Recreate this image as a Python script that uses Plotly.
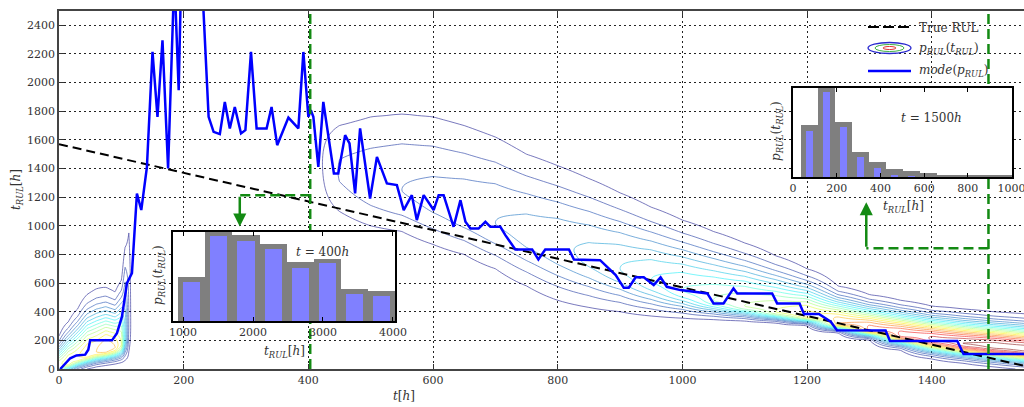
import numpy as np
import plotly.graph_objects as go

# ---------------- data ----------------
# true remaining useful life
true_t = [0, 1570]
true_rul = [1570, 0]

# mode of the RUL density over time
mode_t = [2, 10, 18, 28, 42, 47, 50, 85, 93, 101,
          109, 117, 125, 132, 141, 150, 158, 166, 175, 185,
          192, 196, 229, 240, 248, 258, 266, 274, 282, 292,
          299, 308, 317, 333, 341, 350, 368, 384, 392, 400,
          404, 408, 416, 424, 441, 448, 459, 466, 475, 483,
          499, 510, 526, 542, 553, 566, 574, 585, 601, 609,
          617, 633, 644, 652, 660, 673, 684, 692, 708, 716,
          732, 759, 769, 780, 818, 826, 862, 868, 893, 906,
          914, 925, 938, 954, 965, 975, 997, 1040, 1050, 1066,
          1082, 1088, 1144, 1152, 1188, 1195, 1219, 1238, 1248, 1326,
          1333, 1441, 1451, 1549]
mode_rul = [0, 40, 75, 95, 100, 135, 200, 200, 250, 365,
            600, 670, 1225, 1110, 1410, 2215, 1760, 2295, 1400, 2750,
            1947, 2750, 2750, 1761, 1656, 1640, 1865, 1680, 1830, 1645,
            1668, 2214, 1680, 1680, 1830, 1563, 1756, 1680, 2214, 1761,
            1807, 1761, 1412, 1865, 1365, 1365, 1633, 1575, 1226, 1680,
            1191, 1481, 1296, 1284, 1110, 1214, 1040, 1214, 1110, 1214,
            1214, 993, 1179, 1028, 981, 981, 1028, 993, 993, 935,
            835, 835, 765, 835, 835, 765, 765, 760, 656, 567,
            567, 640, 640, 586, 640, 574, 551, 528, 458, 458,
            563, 528, 528, 458, 458, 384, 384, 330, 270, 268,
            195, 195, 105, 105]

# RUL density p_RUL(t_RUL) summary per time column: mode, lower / upper
# extent of the outermost contour, and peak level (number of contour rings)
dens_t = [0, 15, 30, 45, 60, 75, 90, 100, 106, 112, 118, 395,
          420, 450, 500, 550, 600, 650, 700, 750, 800, 850, 900, 950,
          1000, 1050, 1100, 1150, 1200, 1250, 1300, 1350, 1400, 1450, 1500, 1550]
dens_mode = [15, 45, 75, 100, 120, 135, 150, 170, 210, 300, 400, 1500,
             1450, 1380, 1300, 1250, 1180, 1100, 1020, 940, 860, 780, 700, 620,
             550, 480, 440, 400, 370, 320, 280, 240, 210, 180, 160, 140]
dens_lo = [-60, -40, -20, 0, 15, 25, 35, 45, 60, 120, 200, 1100,
           1150, 1100, 1000, 960, 870, 800, 700, 580, 480, 430, 400, 370,
           355, 345, 335, 320, 300, 250, 200, 130, 70, 40, 15, -5]
dens_hi = [230, 330, 420, 520, 560, 570, 540, 620, 850, 950, 1000, 1800,
           1700, 1700, 1760, 1780, 1760, 1700, 1620, 1500, 1420, 1330, 1230, 1130,
           1040, 960, 880, 790, 700, 580, 520, 480, 440, 420, 400, 385]
dens_peak = [11, 12, 12, 13, 13, 14, 13, 11, 6, 2, 0, 0,
             0.9, 2.1, 2.6, 3, 3.3, 3.6, 4, 4.4, 4.8, 5.3, 6, 7,
             8, 9, 10, 11, 12.5, 14, 15.5, 16.5, 17.3, 18, 18.6, 18.6]

# inset histograms
inset1_bins = [1125, 1512.5, 1900, 2287.5, 2675, 3062.5, 3450, 3837.5]
inset1_p = [0.44, 0.95, 0.90, 0.81, 0.60, 0.65, 0.30, 0.28]
inset1_edge = [0.50, 1.00, 0.97, 0.87, 0.66, 0.70, 0.36, 0.34]
inset2_bins = [77.5, 155, 232.5, 310, 387.5, 465, 542.5, 620, 697.5, 775, 852.5, 930, 1007.5]
inset2_p = [0.52, 0.96, 0.565, 0.225, 0.10, 0.02, 0.005, 0, 0, 0, 0, 0, 0]
inset2_edge = [0.58, 1.00, 0.62, 0.28, 0.17, 0.087, 0.071, 0.042, 0.028, 0.022, 0.02, 0.017, 0.015]

# snapshot markers (vertical green lines) and arrows
snap_t = [403, 1491]
arrow_corner_t = [290, 1295]
arrow_corner_y = [1214, 844]
arrow_tip_y = [995, 1165]

x_ticks = [0, 200, 400, 600, 800, 1000, 1200, 1400]
y_ticks = [0, 200, 400, 600, 800, 1000, 1200, 1400, 1600, 1800, 2000, 2200, 2400]
inset1_ticks = [1000, 2000, 3000, 4000]
inset2_ticks = [0, 200, 400, 600, 800, 1000]

# ---------------- layout helpers ----------------
W, H = 1024, 407
ML, MR, MT, MB = 59, 0, 11, 38
PW, PH = W - ML - MR, H - MT - MB


def px_x(px):
    return (px - ML) / PW


def px_y(py):
    return (H - MB - py) / PH


FONT = "DejaVu Serif"
TXT = "#333333"
GREEN = "#138a13"

# ---------------- density grid for the contour ----------------
y_grid = np.arange(0, 2501, 10)
cols = []
for c, lo, hi, a in zip(dens_mode, dens_lo, dens_hi, dens_peak):
    if a > 1:
        k = np.sqrt(2 * np.log(a))
        s_lo, s_hi = (c - lo) / k, (hi - c) / k
    else:
        s_lo = s_hi = 300.0
    s = np.where(y_grid < c, s_lo, s_hi)
    cols.append(a * np.exp(-0.5 * ((y_grid - c) / s) ** 2))
Z = np.round(np.array(cols).T, 4)

jet = [[0, 'rgb(0,0,131)'], [0.125, 'rgb(0,60,170)'], [0.375, 'rgb(5,255,255)'],
       [0.625, 'rgb(255,255,0)'], [0.875, 'rgb(250,0,0)'], [1, 'rgb(128,0,0)']]

fig = go.Figure()

fig.add_trace(go.Contour(
    x=dens_t, y=y_grid, z=Z,
    contours=dict(start=1, end=18, size=1, coloring='lines'),
    colorscale=jet, zauto=False, zmin=0, zmax=21,
    line=dict(width=0.7, smoothing=1), opacity=0.75,
    showscale=False, hoverinfo='skip', showlegend=False,
))

fig.add_trace(go.Scatter(
    x=true_t, y=true_rul, mode='lines',
    line=dict(color='black', width=2, dash='9px,5px'),
    showlegend=False, hoverinfo='skip'))

fig.add_trace(go.Scatter(
    x=mode_t, y=mode_rul, mode='lines',
    line=dict(color='#0000ff', width=2.5),
    showlegend=False, hoverinfo='skip'))

# green snapshot lines
for st in snap_t:
    fig.add_trace(go.Scatter(
        x=[st, st], y=[0, 2500], mode='lines',
        line=dict(color=GREEN, width=2.5, dash='10px,5px'),
        showlegend=False, hoverinfo='skip'))
for st, ct, cy in zip(snap_t, arrow_corner_t, arrow_corner_y):
    fig.add_trace(go.Scatter(
        x=[st, ct], y=[cy, cy], mode='lines',
        line=dict(color=GREEN, width=2.5, dash='10px,5px'),
        showlegend=False, hoverinfo='skip'))

# inset histograms
fig.add_trace(go.Bar(x=inset1_bins, y=inset1_edge, width=387.5,
                     marker=dict(color='#7f7f7f', line=dict(width=0)),
                     xaxis='x2', yaxis='y2', showlegend=False, hoverinfo='skip'))
fig.add_trace(go.Bar(x=inset1_bins, y=inset1_p, width=243,
                     marker=dict(color='#8080ff', line=dict(width=0)),
                     xaxis='x2', yaxis='y2', showlegend=False, hoverinfo='skip'))
fig.add_trace(go.Bar(x=inset2_bins, y=inset2_edge, width=77.5,
                     marker=dict(color='#7f7f7f', line=dict(width=0)),
                     xaxis='x3', yaxis='y3', showlegend=False, hoverinfo='skip'))
fig.add_trace(go.Bar(x=inset2_bins, y=inset2_p, width=32,
                     marker=dict(color='#8080ff', line=dict(width=0)),
                     xaxis='x3', yaxis='y3', showlegend=False, hoverinfo='skip'))

tickfont = dict(family=FONT, size=11, color=TXT)
main_axis = dict(showgrid=True, gridcolor='#222222', griddash='2px,3px', gridwidth=1,
                 ticks='inside', ticklen=5, tickcolor='#333333', showline=True,
                 linecolor='#444444', linewidth=1.5, zeroline=False, tickfont=tickfont,
                 automargin=False)

inset_x = dict(ticks='inside', ticklen=4, tickcolor='black', showline=True,
               linecolor='black', linewidth=1.5, mirror='ticks', showgrid=False,
               zeroline=False, tickfont=tickfont, automargin=False,
               ticklabeloverflow='allow')
inset_y = dict(showticklabels=False, ticks='', showline=True, linecolor='black',
               linewidth=1.5, mirror=True, showgrid=False, zeroline=False, range=[0, 1],
               automargin=False)

fig.update_layout(
    template='none',
    width=W, height=H,
    margin=dict(l=ML, r=MR, t=MT, b=MB, pad=0, autoexpand=False),
    paper_bgcolor='white', plot_bgcolor='white',
    barmode='overlay', bargap=0,
    showlegend=False,
    xaxis=dict(range=[0, 1548], tickvals=x_ticks, mirror='ticks', **main_axis),
    yaxis=dict(range=[0, 2500], tickvals=y_ticks, mirror=False, **main_axis),
    xaxis2=dict(domain=[px_x(173), px_x(395)], range=[857, 4029], anchor='y2',
                tickvals=inset1_ticks, **inset_x),
    yaxis2=dict(domain=[px_y(321), px_y(232)], anchor='x2', **inset_y),
    xaxis3=dict(domain=[px_x(793), px_x(1012)], range=[0, 1002], anchor='y3',
                tickvals=inset2_ticks, **inset_x),
    yaxis3=dict(domain=[px_y(177), px_y(88)], anchor='x3', **inset_y),
)

ann = []


def text(px, py, s, size=12, angle=0, xanchor='center'):
    ann.append(dict(x=px_x(px), y=px_y(py), xref='paper', yref='paper', text=s,
                    showarrow=False, textangle=angle, xanchor=xanchor, yanchor='middle',
                    font=dict(family=FONT, size=size, color=TXT)))


text(17, 190, "<i>t</i><sub><i>RUL</i></sub>[<i>h</i>]", size=12, angle=-90)
text(404, 396, "<i>t</i>[<i>h</i>]", size=12)
text(159, 275, "<i>p</i><sub><i>RUL</i></sub>(<i>t</i><sub><i>RUL</i></sub>)", size=12, angle=-90)
text(284, 352, "<i>t</i><sub><i>RUL</i></sub>[<i>h</i>]", size=12)
text(322, 252, "<i>t</i> = 400<i>h</i>", size=12)
text(777, 131, "<i>p</i><sub><i>RUL</i></sub>(<i>t</i><sub><i>RUL</i></sub>)", size=12, angle=-90)
text(903, 207, "<i>t</i><sub><i>RUL</i></sub>[<i>h</i>]", size=12)
text(931, 118, "<i>t</i> = 1500<i>h</i>", size=12)

# legend texts
text(917, 28, "True RUL", size=12, xanchor='left')
text(917, 49, "<i>p</i><sub><i>RUL</i></sub>(<i>t</i><sub><i>RUL</i></sub>)", size=12, xanchor='left')
text(917, 71, "<i>mode</i>(<i>p</i><sub><i>RUL</i></sub>)", size=12, xanchor='left')

# green arrows
for ct, cy, ty in zip(arrow_corner_t, arrow_corner_y, arrow_tip_y):
    ann.append(dict(x=ct, y=ty, xref='x', yref='y', ax=ct, ay=cy, axref='x', ayref='y',
                    text='', showarrow=True, arrowhead=2, arrowsize=1.05,
                    arrowwidth=2.5, arrowcolor=GREEN, standoff=0, startstandoff=0))

fig.update_layout(annotations=ann)

# legend symbols
shapes = [
    dict(type='line', xref='paper', yref='paper', x0=px_x(868), x1=px_x(910),
         y0=px_y(27), y1=px_y(27), line=dict(color='black', width=2, dash='11px,4px')),
    dict(type='circle', xref='paper', yref='paper', x0=px_x(868), x1=px_x(911),
         y0=px_y(53.5), y1=px_y(42.5), line=dict(color='#2a2acf', width=1.3)),
    dict(type='circle', xref='paper', yref='paper', x0=px_x(875), x1=px_x(904),
         y0=px_y(51.5), y1=px_y(44.5), line=dict(color='#3cb043', width=1)),
    dict(type='circle', xref='paper', yref='paper', x0=px_x(883), x1=px_x(896),
         y0=px_y(49.5), y1=px_y(46.5), line=dict(color='#e03030', width=1)),
    dict(type='line', xref='paper', yref='paper', x0=px_x(868), x1=px_x(911),
         y0=px_y(71), y1=px_y(71), line=dict(color='#0000ff', width=2.5)),
]
fig.update_layout(shapes=shapes)

fig.write_html(
    "out.html",
    config={'displayModeBar': False},
    post_script="document.body.style.margin='0px';document.body.style.overflow='hidden';",
)
